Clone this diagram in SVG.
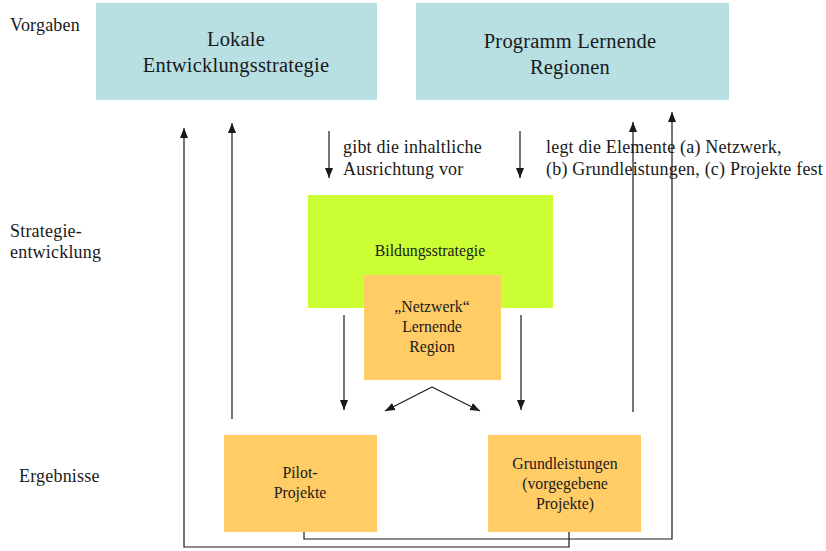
<svg xmlns="http://www.w3.org/2000/svg" width="826" height="551" viewBox="0 0 826 551">
<defs>
<style>
text{font-family:"Liberation Serif","DejaVu Serif",serif;fill:#1a1a1a}
.lbl{font-size:18px;letter-spacing:0.2px}
.big{font-size:20.5px;letter-spacing:0.2px}
.mid{font-size:15.8px}
.c{text-anchor:middle}
.ln{stroke:#1a1a1a;stroke-width:1.2;fill:none}
</style>
<marker id="ah" markerUnits="userSpaceOnUse" markerWidth="10" markerHeight="10" viewBox="0 0 10 10" refX="10" refY="5" orient="auto">
<path d="M0,1 L10,5 L0,9 Z" fill="#1a1a1a"/>
</marker>
</defs>
<rect width="826" height="551" fill="#fff"/>
<g id="labels">
<text class="lbl" x="10" y="31">Vorgaben</text>
<text class="lbl" x="10" y="237">Strategie-</text>
<text class="lbl" x="10" y="258">entwicklung</text>
<text class="lbl" x="19" y="482">Ergebnisse</text>
<text class="lbl" x="343" y="153">gibt die inhaltliche</text>
<text class="lbl" x="343" y="175">Ausrichtung vor</text>
<text class="lbl" x="546" y="153">legt die Elemente (a) Netzwerk,</text>
<text class="lbl" x="546" y="175">(b) Grundleistungen, (c) Projekte fest</text>
</g>
<g id="lokale">
<rect x="96" y="3" width="281" height="97" fill="#B8DFE2"/>
<text class="big c" x="236" y="46">Lokale</text>
<text class="big c" x="236" y="72">Entwicklungsstrategie</text>
</g>
<g id="programm">
<rect x="416" y="3" width="313" height="97" fill="#B8DFE2"/>
<text class="big c" x="570" y="48">Programm Lernende</text>
<text class="big c" x="570" y="74">Regionen</text>
</g>
<g id="bildung">
<rect x="308" y="195" width="245" height="113" fill="#CCFF33"/>
<text class="mid c" x="430" y="256">Bildungsstrategie</text>
</g>
<g id="netzwerk">
<rect x="364" y="275" width="137" height="105" fill="#FFCC66"/>
<text class="mid c" x="432" y="312">„Netzwerk“</text>
<text class="mid c" x="432" y="332">Lernende</text>
<text class="mid c" x="432" y="352">Region</text>
</g>
<g id="pilot">
<rect x="224" y="435" width="153" height="97" fill="#FFCC66"/>
<text class="mid c" x="300" y="478">Pilot-</text>
<text class="mid c" x="300" y="498">Projekte</text>
</g>
<g id="grund">
<rect x="488" y="435" width="153" height="97" fill="#FFCC66"/>
<text class="mid c" x="565" y="469">Grundleistungen</text>
<text class="mid c" x="565" y="489">(vorgegebene</text>
<text class="mid c" x="565" y="509">Projekte)</text>
</g>
<g id="connectors">
<path class="ln" d="M329,131 V178" marker-end="url(#ah)"/>
<path class="ln" d="M520,131 V178" marker-end="url(#ah)"/>
<path class="ln" d="M344,315 V410" marker-end="url(#ah)"/>
<path class="ln" d="M521,315 V410" marker-end="url(#ah)"/>
<path class="ln" d="M432,387 L385,411" marker-end="url(#ah)"/>
<path class="ln" d="M432,387 L480,411" marker-end="url(#ah)"/>
<path class="ln" d="M232,419 V123" marker-end="url(#ah)"/>
<path class="ln" d="M633,412 V122" marker-end="url(#ah)"/>
<path class="ln" d="M569,532 V547 H184 V128" marker-end="url(#ah)"/>
<path class="ln" d="M304,532 V539 H672 V112" marker-end="url(#ah)"/>
</g>
</svg>
